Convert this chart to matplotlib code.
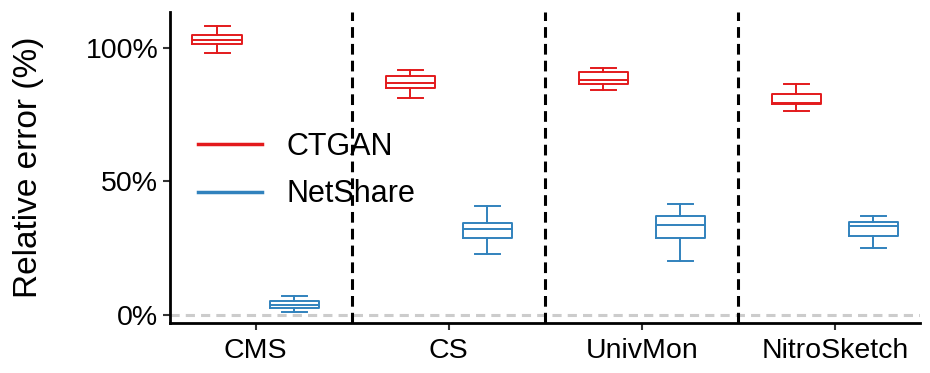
import matplotlib
matplotlib.use("Agg")
import matplotlib.pyplot as plt

plt.rcParams['font.family'] = ['Liberation Sans', 'DejaVu Sans']

sketches = ['CMS', 'CS', 'UnivMon', 'NitroSketch']
methods = ['CTGAN', 'NetShare']
colors = {'CTGAN': '#e31a1c', 'NetShare': '#3182bd'}

# relative error (%) box statistics per sketch
ctgan_whislo = [98.1, 81.0, 84.0, 76.3]
ctgan_q1 = [101.3, 84.7, 86.3, 78.8]
ctgan_med = [102.9, 86.7, 88.0, 79.2]
ctgan_q3 = [104.7, 89.5, 90.8, 82.7]
ctgan_whishi = [107.9, 91.7, 92.3, 86.4]

netshare_whislo = [1.2, 22.8, 20.3, 24.9]
netshare_q1 = [2.5, 28.6, 28.9, 29.7]
netshare_med = [3.7, 32.0, 33.5, 33.3]
netshare_q3 = [5.4, 34.4, 37.0, 34.9]
netshare_whishi = [7.2, 40.9, 41.5, 36.9]

data = {
    'CTGAN': (ctgan_whislo, ctgan_q1, ctgan_med, ctgan_q3, ctgan_whishi),
    'NetShare': (netshare_whislo, netshare_q1, netshare_med, netshare_q3, netshare_whishi),
}
offsets = {'CTGAN': -0.2, 'NetShare': 0.2}

fig = plt.figure(figsize=(9.3, 3.73), dpi=100)
ax = fig.add_axes([0.183, 0.134, 0.806, 0.834])

# zero reference line
ax.axhline(0, color='#cccccc', lw=2.2, ls=(0, (3, 2)), zorder=0)

for m in methods:
    lo, q1, med, q3, hi = data[m]
    stats = [dict(whislo=lo[i], q1=q1[i], med=med[i], q3=q3[i], whishi=hi[i], fliers=[])
             for i in range(len(sketches))]
    pos = [i + offsets[m] for i in range(len(sketches))]
    c = colors[m]
    ax.bxp(stats, positions=pos, widths=0.255, capwidths=0.13, showfliers=False,
           boxprops=dict(color=c, lw=1.4),
           medianprops=dict(color=c, lw=1.4),
           whiskerprops=dict(color=c, lw=1.4),
           capprops=dict(color=c, lw=1.4),
           manage_ticks=False)
    ax.plot([], [], color=c, lw=2.5, label=m)

# separators between sketches
for x in [0.5, 1.5, 2.5]:
    ax.axvline(x, color='black', lw=2.2, ls=(0, (3.5, 2)), zorder=1)

ax.set_xlim(-0.443, 3.44)
ax.set_ylim(-3.0, 113.3)
ax.set_xticks(range(len(sketches)))
ax.set_xticklabels(sketches)
ax.set_yticks([0, 50, 100])
ax.set_yticklabels(['0%', '50%', '100%'])
ax.set_ylabel('Relative error (%)', fontsize=24)
ax.yaxis.set_label_coords(-0.168, 0.5)
ax.tick_params(labelsize=20.5, length=5, width=1.5, color='#333333')
ax.tick_params(axis='x', pad=6)

for s in ['top', 'right']:
    ax.spines[s].set_visible(False)
for s in ['left', 'bottom']:
    ax.spines[s].set_linewidth(2)

ax.legend(loc='upper left', bbox_to_anchor=(0.0, 0.704), frameon=False, fontsize=22,
          handlelength=2.1, handletextpad=0.8, labelspacing=0.58)

fig.savefig('out.png', dpi=100)
